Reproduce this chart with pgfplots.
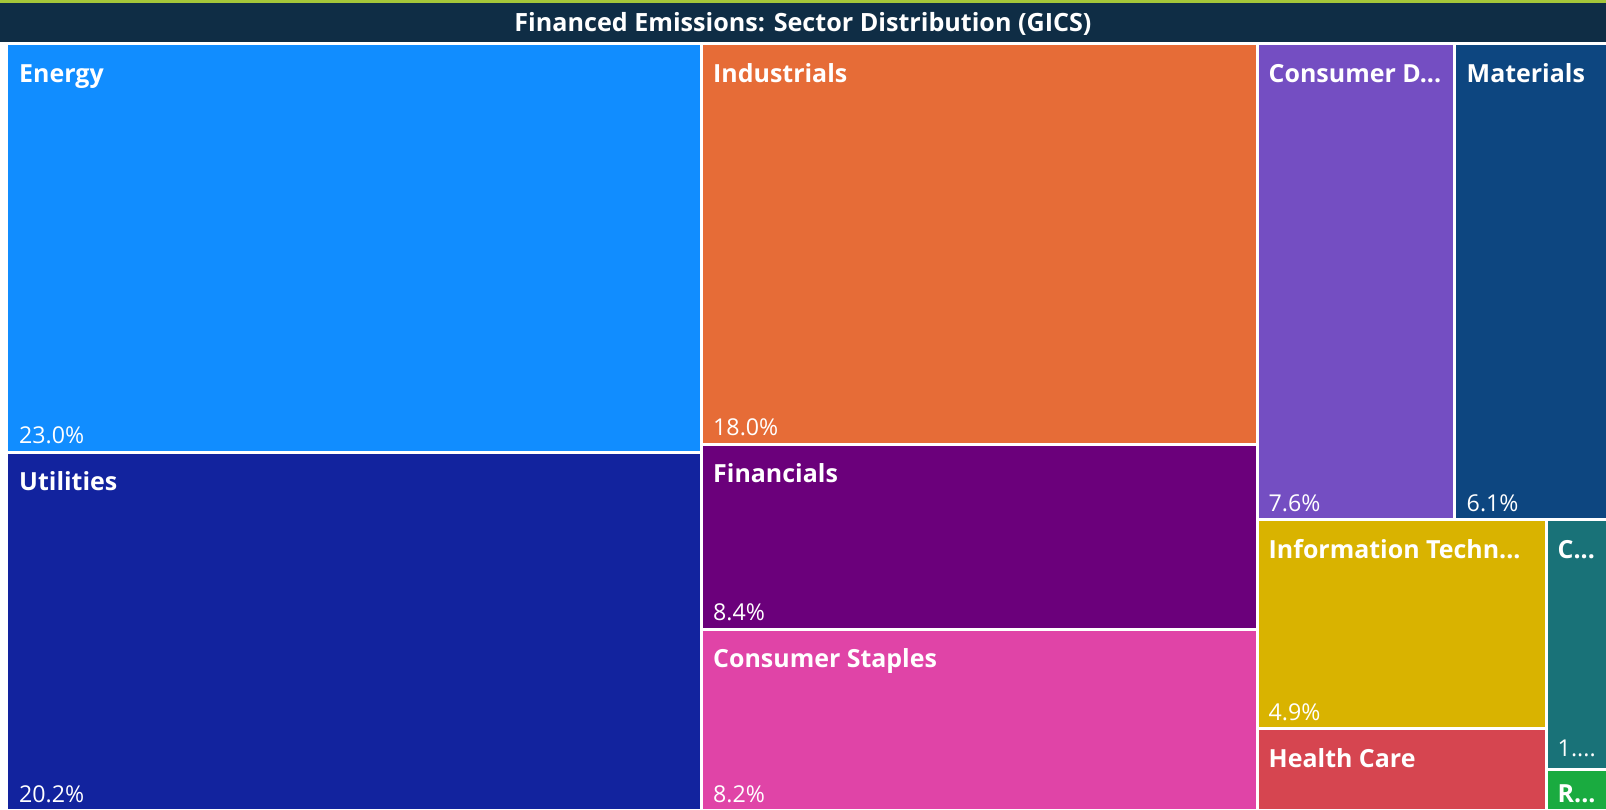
\documentclass[border=0pt]{standalone}
\usepackage{pgfplots}
\pgfplotsset{compat=1.18}
\usepackage{fontspec}
\setmainfont{Open Sans}
\definecolor{cTitle}{HTML}{0F2D45}
\definecolor{cTop}{HTML}{A4C639}
\definecolor{cEnergy}{HTML}{118DFF}
\definecolor{cUtil}{HTML}{12239E}
\definecolor{cInd}{HTML}{E66C37}
\definecolor{cFin}{HTML}{6B007B}
\definecolor{cStap}{HTML}{E044A7}
\definecolor{cDisc}{HTML}{744EC2}
\definecolor{cMat}{HTML}{0D4680}
\definecolor{cIT}{HTML}{D9B300}
\definecolor{cHC}{HTML}{D64550}
\definecolor{cComm}{HTML}{197278}
\definecolor{cRE}{HTML}{1AAB40}
\begin{document}
\begin{tikzpicture}
\begin{axis}[
  width=16.06cm, height=8.09cm, scale only axis,
  xmin=0, xmax=1606, ymin=0, ymax=809, y dir=reverse,
  hide axis, clip=true,
  every axis plot/.append style={draw=none},
]
% top accent line and title bar
\addplot[fill=cTop] coordinates {(0,0) (1606,0) (1606,2.5) (0,2.5)} -- cycle;
\addplot[fill=cTitle] coordinates {(0,3) (1606,3) (1606,42) (0,42)} -- cycle;
% tiles (x0,y0) (x1,y0) (x1,y1) (x0,y1) in pixel units
\addplot[fill=cEnergy] coordinates {(8.2,45) (699.5,45) (699.5,450.6) (8.2,450.6)} -- cycle;
\addplot[fill=cUtil] coordinates {(8.2,453.7) (699.5,453.7) (699.5,809) (8.2,809)} -- cycle;
\addplot[fill=cInd] coordinates {(702.6,45) (1255.7,45) (1255.7,442.5) (702.6,442.5)} -- cycle;
\addplot[fill=cFin] coordinates {(702.6,445.5) (1255.7,445.5) (1255.7,627.8) (702.6,627.8)} -- cycle;
\addplot[fill=cStap] coordinates {(702.6,630.9) (1255.7,630.9) (1255.7,809) (702.6,809)} -- cycle;
\addplot[fill=cDisc] coordinates {(1258.7,45) (1453.3,45) (1453.3,518.2) (1258.7,518.2)} -- cycle;
\addplot[fill=cMat] coordinates {(1456.4,45) (1606,45) (1606,518.2) (1456.4,518.2)} -- cycle;
\addplot[fill=cIT] coordinates {(1258.7,521.3) (1544.5,521.3) (1544.5,727.2) (1258.7,727.2)} -- cycle;
\addplot[fill=cHC] coordinates {(1258.7,730.2) (1544.5,730.2) (1544.5,809) (1258.7,809)} -- cycle;
\addplot[fill=cComm] coordinates {(1547.6,521.3) (1606,521.3) (1606,768.1) (1547.6,768.1)} -- cycle;
\addplot[fill=cRE] coordinates {(1547.6,771.2) (1606,771.2) (1606,809) (1547.6,809)} -- cycle;
% title
\node[text=white, font=\bfseries\fontsize{7.15}{8}\selectfont, anchor=base] at (axis cs:803,31.5) {Financed Emissions: Sector Distribution (GICS)};
% names
\tikzset{nm/.style={text=white, font=\bfseries\fontsize{7.1}{8}\selectfont, anchor=base west, inner sep=0pt},
         pc/.style={text=white, font=\fontsize{6.6}{8}\selectfont, anchor=base west, inner sep=0pt}}
\node[nm] at (axis cs:18.5,82) {Energy};
\node[pc] at (axis cs:18.5,443) {23.0\%};
\node[nm] at (axis cs:18.5,490.5) {Utilities};
\node[pc] at (axis cs:18.5,802) {20.2\%};
\node[nm] at (axis cs:712.5,82) {Industrials};
\node[pc] at (axis cs:712.5,435) {18.0\%};
\node[nm] at (axis cs:712.5,482.5) {Financials};
\node[pc] at (axis cs:712.5,620) {8.4\%};
\node[nm] at (axis cs:712.5,667.5) {Consumer Staples};
\node[pc] at (axis cs:712.5,802) {8.2\%};
\node[nm] at (axis cs:1268,82) {Consumer D...};
\node[pc] at (axis cs:1268,511) {7.6\%};
\node[nm] at (axis cs:1466,82) {Materials};
\node[pc] at (axis cs:1466,511) {6.1\%};
\node[nm] at (axis cs:1268,558) {Information Techn...};
\node[pc] at (axis cs:1268,720) {4.9\%};
\node[nm] at (axis cs:1268,767) {Health Care};
\node[nm] at (axis cs:1557,558) {C...};
\node[pc] at (axis cs:1557,756) {1....};
\node[nm] at (axis cs:1557,802) {R...};
\end{axis}
\end{tikzpicture}
\end{document}
